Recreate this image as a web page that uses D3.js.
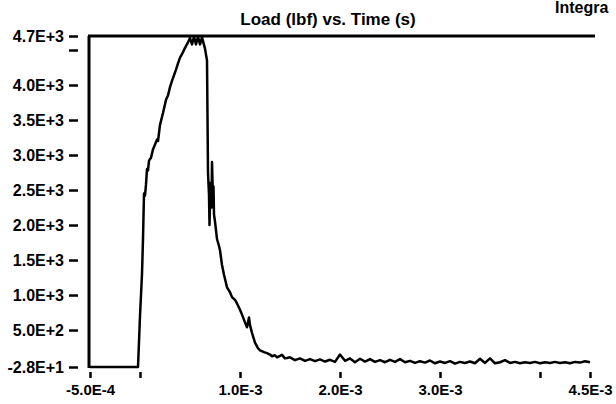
<!DOCTYPE html>
<html>
<head>
<meta charset="utf-8">
<script src="https://cdn.jsdelivr.net/npm/d3@7"></script>
<style>
	body { margin: 0; background: #fff; }
	svg text { font-family: "Liberation Sans", Arial, sans-serif; font-weight: bold; fill: #000; }
</style>
</head>
<body>
<svg id="chart" width="616" height="404"></svg>
<script>
// time (s) and load (lbf)
const timeValues = [
	-0.0005, -0.00002, 0.0, 0.00002, 0.00003, 0.00004, 0.00005, 0.00006, 0.00007, 0.00008,
	0.00009, 0.00011, 0.00013, 0.00015, 0.00017, 0.00018, 0.0002, 0.00023, 0.00026, 0.00028,
	0.0003, 0.00032, 0.00034, 0.00036, 0.00038, 0.0004, 0.00042, 0.00045, 0.00048, 0.0005,
	0.00052, 0.00054, 0.00056, 0.00058, 0.0006, 0.00062, 0.00065, 0.00067, 0.00068, 0.00069,
	0.000695, 0.000705, 0.000715, 0.00072, 0.00073, 0.000735, 0.00074, 0.00075, 0.00077, 0.00079,
	0.0008, 0.00082, 0.00084, 0.00087, 0.0009, 0.00092, 0.00095, 0.00097, 0.001, 0.00102,
	0.00105, 0.00107, 0.00109, 0.0011, 0.00112, 0.00115, 0.00118, 0.0012, 0.00124, 0.00127,
	0.0013, 0.00132, 0.00135, 0.00137, 0.0014, 0.00142, 0.00145, 0.00147,
	0.0015, 0.00155, 0.0016, 0.00165, 0.0017, 0.00175, 0.0018, 0.00185, 0.0019, 0.00195,
	0.002, 0.00205, 0.0021, 0.00215, 0.0022, 0.00225, 0.0023, 0.00235, 0.0024, 0.00245,
	0.0025, 0.00255, 0.0026, 0.00265, 0.0027, 0.00275, 0.0028, 0.00285, 0.0029, 0.00295,
	0.003, 0.00305, 0.0031, 0.00315, 0.0032, 0.00325, 0.0033, 0.00335, 0.0034, 0.00345,
	0.0035, 0.00355, 0.0036, 0.00365, 0.0037, 0.00375, 0.0038, 0.00385, 0.0039, 0.00395,
	0.004, 0.00405, 0.0041, 0.00415, 0.0042, 0.00425, 0.0043, 0.00435, 0.0044, 0.00445,
	0.0045
];
const loadValues = [
	-28, -28, 700, 1300, 1800, 2450, 2420, 2580, 2800, 2780,
	2920, 2960, 3080, 3150, 3220, 3200, 3430, 3600, 3790, 3850,
	3970, 4060, 4140, 4220, 4310, 4390, 4440, 4530, 4610, 4670,
	4580, 4690, 4580, 4690, 4580, 4680, 4520, 4350, 2750, 2430,
	2000, 2600, 2250, 2900, 2350, 2550, 2150, 2050, 1800, 1700,
	1640, 1430, 1290, 1110, 1040, 970, 930, 880, 790, 720,
	610, 540, 680, 570, 460, 320, 240, 210, 185, 170,
	150, 125, 140, 110, 130, 145, 95, 100,
	110, 70, 95, 60, 85, 55, 80, 50, 75, 45,
	150, 60, 95, 40, 90, 50, 85, 45, 70, 40,
	75, 45, 85, 40, 60, 30, 55, 35, 65, 25,
	50, 30, 55, 20, 45, 30, 50, 25, 90, 30,
	95, 25, 40, 70, 30, 45, 25, 40, 30, 45,
	25, 40, 30, 45, 30, 40, 25, 45, 35, 55,
	40
];

const yTickValues = [-28, 500, 1000, 1500, 2000, 2500, 3000, 3500, 4000, 4500, 4700];
const yUnlabeled = [4500];
const xTickValues = [-0.0005, 0, 0.001, 0.002, 0.003, 0.004, 0.0045];
const xUnlabeled = [0, 0.004];

const titleText = 'Load (lbf) vs. Time (s)';
const cornerText = 'Integra';

const svg = d3.select('#chart');
const fmt = d3.formatLocale({ decimal: '.', thousands: ',', grouping: [3], currency: ['', ''], minus: '-' }).format('.1e');
const sciLabel = function(d) { return fmt(d).toUpperCase(); };

let xScale = d3.scaleLinear()
	.domain([ -0.0005, 0.0045 ])
	.range([ 90, 590 ]);
let yScale = d3.scaleLinear()
	.domain([ -28, 4700 ])
	.range([ 367, 36 ]);

// title + header text at the top right
svg.append('text')
	.attr('x', 328)
	.attr('y', 25)
	.attr('text-anchor', 'middle')
	.style('font-size', '17px')
	.text(titleText);
svg.append('text')
	.attr('x', 555)
	.attr('y', 13)
	.style('font-size', '16px')
	.text(cornerText);

// y axis: detached dash ticks
let yAxis = d3.axisLeft(yScale)
	.tickValues(yTickValues)
	.tickSize(9)
	.tickPadding(5)
	.tickFormat(function(d) { return yUnlabeled.indexOf(d) >= 0 ? '' : sciLabel(d); });
let yAxisGroup = svg.append('g')
	.attr('transform', 'translate(78,0)')
	.call(yAxis);
yAxisGroup.select('.domain').remove();
yAxisGroup.selectAll('line').style('stroke', '#000').style('stroke-width', 2.5);
yAxisGroup.selectAll('text').style('font-size', '16px').style('font-family', null);

// x axis: short ticks below the trace
let xAxis = d3.axisBottom(xScale)
	.tickValues(xTickValues)
	.tickSize(6)
	.tickPadding(6)
	.tickFormat(function(d) { return xUnlabeled.indexOf(d) >= 0 ? '' : sciLabel(d); });
let xAxisGroup = svg.append('g')
	.attr('transform', 'translate(0,372)')
	.call(xAxis);
xAxisGroup.select('.domain').remove();
xAxisGroup.selectAll('line').style('stroke', '#000').style('stroke-width', 2.5);
xAxisGroup.selectAll('text').style('font-size', '15px').style('font-family', null);

// frame lines: left axis and top limit
svg.append('line')
	.attr('x1', xScale(-0.0005) - 1).attr('x2', xScale(-0.0005) - 1)
	.attr('y1', yScale(4700)).attr('y2', yScale(-28) + 1)
	.style('stroke', '#000').style('stroke-width', 3);
svg.append('line')
	.attr('x1', xScale(-0.0005) - 2).attr('x2', xScale(0.00455))
	.attr('y1', yScale(4700)).attr('y2', yScale(4700))
	.style('stroke', '#000').style('stroke-width', 3);

// trace
let points = timeValues.map(function(t, i) { return [ t, loadValues[i] ]; });
let line = d3.line()
	.x(function(d) { return xScale(d[0]); })
	.y(function(d) { return yScale(d[1]); });
svg.append('path')
	.datum(points)
	.attr('d', line)
	.style('fill', 'none')
	.style('stroke', '#000')
	.style('stroke-width', 2.5)
	.style('stroke-linejoin', 'round');
</script>
</body>
</html>
